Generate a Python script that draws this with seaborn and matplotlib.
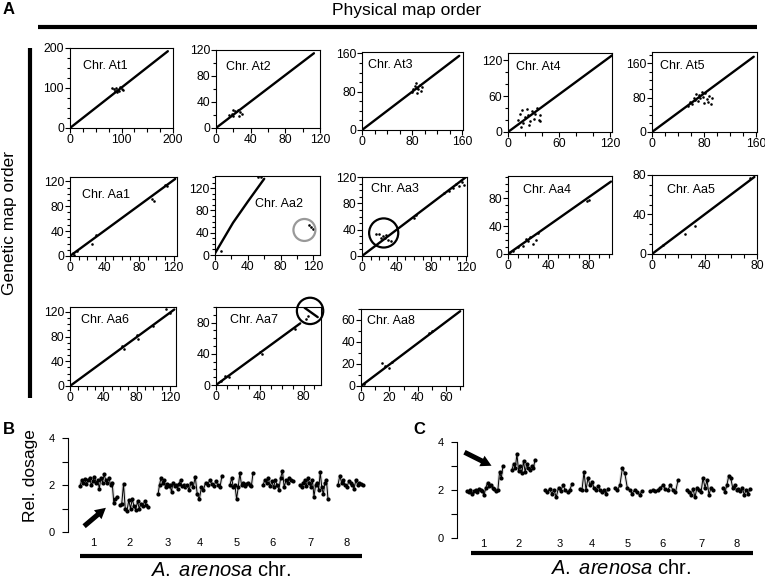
import numpy as np
import matplotlib
matplotlib.use("Agg")
import matplotlib.pyplot as plt
from matplotlib.lines import Line2D
from matplotlib.ticker import MultipleLocator
import seaborn as sns

# ── 1. Panel A: marker order, (physical, genetic) pairs ───────────────────────
at1_line = [(0, 0), (190, 192)]
at1_dots = [(82, 100), (86, 98), (90, 101), (93, 95), (96, 92), (100, 97),
            (103, 94), (88, 92), (92, 90), (98, 102)]
at2_line = [(0, 0), (113, 115)]
at2_dots = [(15, 20), (18, 22), (20, 18), (22, 26), (25, 28), (28, 24),
            (30, 22), (20, 27), (26, 19)]
at3_line = [(0, 0), (155, 155)]
at3_dots = [(80, 80), (84, 92), (86, 98), (88, 88), (90, 85), (92, 95),
            (94, 82), (96, 90), (88, 78), (82, 86)]
at4_line = [(0, 0), (122, 128)]
at4_dots = [(12, 20), (14, 30), (16, 36), (18, 15), (20, 25), (22, 38),
            (24, 28), (26, 18), (28, 35), (30, 22), (32, 30), (34, 40),
            (36, 20), (38, 28), (25, 12), (15, 8), (38, 18)]
at5_line = [(0, 0), (156, 175)]
at5_dots = [(55, 60), (58, 70), (62, 65), (64, 80), (66, 75), (68, 88),
            (70, 72), (72, 85), (74, 78), (76, 92), (78, 82), (80, 68),
            (82, 90), (84, 76), (86, 70), (88, 84), (90, 65), (92, 80)]
aa1_line = [(0, 0), (122, 124)]
aa1_dots = [(3, 5), (5, 2), (8, 8), (25, 20), (30, 33), (95, 92), (97, 88),
            (110, 114), (112, 112)]
aa2_line = [(0, 3), (22, 58), (40, 96), (60, 137)]
aa2_dots = [(7, 8), (52, 141), (56, 140), (115, 54), (117, 50), (119, 46)]
aa3_line = [(0, 0), (120, 120)]
aa3_dots = [(16, 34), (20, 33), (22, 27), (24, 30), (27, 28), (28, 32),
            (30, 25), (33, 23), (60, 58), (62, 62), (95, 95), (100, 98),
            (105, 103), (108, 110), (112, 106), (115, 112), (118, 108)]
aa4_line = [(0, 0), (102, 104)]
aa4_dots = [(2, 3), (5, 5), (10, 10), (15, 12), (18, 22), (20, 18), (22, 24),
            (25, 15), (28, 20), (30, 30), (78, 76), (80, 78)]
aa5_line = [(0, 0), (78, 78)]
aa5_dots = [(8, 9), (25, 20), (33, 28), (75, 77)]
aa6_line = [(0, 0), (125, 124)]
aa6_dots = [(62, 65), (65, 60), (80, 82), (82, 76), (100, 98), (115, 124),
            (120, 118)]
aa7_line = [(0, 0), (77, 79)]
aa7_flip = [(81, 99), (93, 87)]
aa7_dots = [(5, 5), (8, 12), (12, 10), (40, 42), (42, 40), (72, 72),
            (82, 84), (84, 88)]
aa8_line = [(0, 0), (70, 68)]
aa8_dots = [(2, 2), (15, 21), (17, 18), (20, 16), (22, 22), (48, 48), (50, 50)]

chrom_names = ["At1", "At2", "At3", "At4", "At5",
               "Aa1", "Aa2", "Aa3", "Aa4", "Aa5",
               "Aa6", "Aa7", "Aa8"]
chrom_lines = [at1_line, at2_line, at3_line, at4_line, at5_line,
               aa1_line, aa2_line, aa3_line, aa4_line, aa5_line,
               aa6_line, aa7_line, aa8_line]
chrom_dots = [at1_dots, at2_dots, at3_dots, at4_dots, at5_dots,
              aa1_dots, aa2_dots, aa3_dots, aa4_dots, aa5_dots,
              aa6_dots, aa7_dots, aa8_dots]
x_max = [200, 120, 161, 122, 161, 124, 128, 121, 103, 80, 127, 96, 72]
y_max = [200, 120, 163, 132, 186, 127, 142, 120, 112, 80, 128, 100, 70]
major_step = [100, 40, 80, 60, 80, 40, 40, 40, 40, 40, 40, 40, 20]
x_minor = [25, 20, 20, 20, 20, 10, 20, 10, 10, 10, 10, 10, 10]
y_minor = [25, 20, 20, 20, 20, 10, 10, 10, 10, 10, 10, 10, 10]

# circled regions: chromosome, centre, colour
circle_chrom = ["Aa2", "Aa3", "Aa7"]
circle_xy = [(109, 45), (25, 35), (86, 95)]
circle_color = ["#999999", "black", "black"]

# ── 2. Panels B / C: relative dosage per window ───────────────────────────────
b_chr1 = [1.95, 2.2, 2.1, 2.25, 2.05, 2.2, 2.3, 2.0, 2.15, 2.35, 2.1, 2.2,
          1.85, 2.3, 2.1, 2.45, 2.2, 2.1, 2.3, 2.0, 2.1, 1.25, 1.4, 1.5]
b_chr2 = [1.15, 1.2, 2.05, 1.0, 0.9, 1.35, 1.0, 1.4, 1.1, 0.95, 1.3, 1.0,
          1.2, 1.1, 1.3, 1.15, 1.05]
b_chr3 = [1.6, 2.0, 2.3, 2.1, 2.2, 1.9, 2.05, 1.95, 2.0, 1.7, 2.1, 1.95,
          2.0, 1.85, 2.05, 2.2, 1.95, 2.0, 1.9]
b_chr4 = [2.0, 1.8, 2.1, 1.9, 2.35, 1.6, 1.4, 1.9, 1.8, 2.1, 2.0, 2.2,
          2.05, 1.95, 2.15, 2.0, 1.9, 2.4]
b_chr5 = [2.0, 2.3, 1.9, 2.0, 1.4, 1.9, 2.5, 2.0, 2.1, 1.95, 2.05, 2.1,
          2.0, 1.95, 2.5]
b_chr6 = [2.0, 2.2, 2.1, 2.3, 1.95, 2.15, 1.9, 2.2, 2.0, 1.8, 2.3, 2.6,
          1.9, 2.2, 2.1, 2.3, 2.2, 2.15]
b_chr7 = [2.0, 1.9, 2.1, 2.2, 1.95, 2.3, 2.1, 1.9, 2.2, 1.5, 2.0, 2.1,
          1.8, 2.55, 1.9, 1.6, 2.1, 2.2, 1.4]
b_chr8 = [2.0, 2.4, 2.1, 2.2, 2.0, 1.9, 2.15, 2.1, 2.0, 1.85, 2.2, 2.0,
          2.1, 2.05, 2.0]
b_start = [12, 52, 90, 119, 162, 195, 232, 270]
b_end = [49, 80, 117, 154, 185, 225, 260, 295]
b_label_pos = [25, 62, 100, 132, 169, 204, 242, 279]

c_chr1 = [1.95, 1.9, 2.0, 1.85, 1.95, 2.0, 1.9, 2.05, 2.0, 1.95, 1.8, 2.1,
          2.3, 2.15, 2.2, 2.1, 2.05, 1.95, 2.0, 2.75, 2.5, 3.0]
c_chr2 = [2.85, 3.1, 2.9, 3.5, 2.8, 3.0, 2.7, 3.2, 2.75, 3.1, 2.9, 2.85,
          3.0, 2.9, 3.25]
c_chr3 = [2.0, 1.9, 2.05, 1.85, 2.0, 1.7, 2.1, 1.95, 2.2, 2.0, 1.9, 2.0, 2.25]
c_chr4 = [2.05, 2.0, 2.75, 2.0, 2.5, 2.2, 2.35, 2.1, 2.0, 2.15, 2.0, 1.9,
          2.0, 1.85, 2.05]
c_chr5 = [2.1, 2.0, 2.2, 2.9, 2.7, 2.1, 2.0, 1.85, 2.0, 1.9, 1.8, 1.95]
c_chr6 = [1.95, 2.0, 1.95, 2.0, 2.1, 2.2, 2.05, 2.0, 2.2, 2.0, 1.9, 2.4]
c_chr7 = [2.0, 1.9, 1.8, 2.05, 1.7, 2.1, 2.0, 1.9, 2.5, 2.1, 2.4, 1.8,
          2.1, 2.0]
c_chr8 = [2.1, 1.9, 2.2, 2.6, 2.5, 2.1, 2.2, 2.0, 2.05, 1.95, 2.1, 1.8,
          2.0, 1.85, 2.05]
c_start = [10, 55, 88, 123, 158, 193, 230, 266]
c_end = [46, 78, 115, 151, 185, 221, 256, 293]
c_label_pos = [26, 62, 103, 135, 171, 206, 244, 280]

chr_numbers = ["1", "2", "3", "4", "5", "6", "7", "8"]

# ── 3. Style ──────────────────────────────────────────────────────────────────
sns.set_theme(style="ticks")
plt.rcParams["font.family"] = ["Liberation Sans", "DejaVu Sans"]
plt.rcParams.update({
    "mathtext.fontset": "custom",
    "mathtext.it": "Liberation Sans:italic",
    "mathtext.rm": "Liberation Sans",
    "text.color": "black",
    "axes.edgecolor": "black",
    "axes.linewidth": 0.8,
    "xtick.color": "black",
    "ytick.color": "black",
    "xtick.labelsize": 8.7,
    "ytick.labelsize": 8.7,
    "xtick.major.size": 3.5,
    "ytick.major.size": 3.5,
    "xtick.minor.size": 3.0,
    "ytick.minor.size": 2.2,
    "xtick.major.width": 0.8,
    "ytick.major.width": 0.8,
    "xtick.minor.width": 0.8,
    "ytick.minor.width": 0.8,
    "xtick.major.pad": 1.0,
    "ytick.major.pad": 0.8,
})

W, H = 765, 579
fig = plt.figure(figsize=(W / 100, H / 100), dpi=100)


def px_rect(l, t, r, b):
    return [l / W, 1 - b / H, (r - l) / W, (b - t) / H]


def fx(x):
    return x / W


def fy(y):
    return 1 - y / H


# pixel boxes (left, top, right, bottom) of every small dot plot
boxes = [(70, 48, 173, 128), (216, 50, 320, 128), (362, 52, 463, 130),
         (508, 53, 612, 132), (652, 52, 757, 132),
         (70, 177, 177, 256), (215, 176, 320, 255), (362, 177, 467, 256),
         (508, 176, 612, 254), (652, 175, 757, 254),
         (70, 307, 176, 386), (216, 307, 321, 385), (361, 309, 463, 386)]
label_pos = [(0.13, 0.78), (0.10, 0.78), (0.06, 0.83), (0.08, 0.82),
             (0.08, 0.82), (0.11, 0.77), (0.38, 0.65), (0.09, 0.85),
             (0.14, 0.82), (0.14, 0.81), (0.10, 0.83), (0.13, 0.83),
             (0.06, 0.84)]
circle_size = {"Aa2": 250, "Aa3": 440, "Aa7": 360}

# ── 4. Panel A dot plots ──────────────────────────────────────────────────────
for i, name in enumerate(chrom_names):
    ax = fig.add_axes(px_rect(*boxes[i]))
    lx, ly = zip(*chrom_lines[i])
    sns.lineplot(x=list(lx), y=list(ly), ax=ax, color="black", lw=1.7,
                 sort=False, estimator=None)
    dx, dy = zip(*chrom_dots[i])
    sns.scatterplot(x=list(dx), y=list(dy), ax=ax, color="black", s=3.5,
                    linewidth=0)
    if name == "Aa7":
        fx_, fy_ = zip(*aa7_flip)
        sns.lineplot(x=list(fx_), y=list(fy_), ax=ax, color="black", lw=1.7,
                     sort=False, estimator=None)
    if name in circle_chrom:
        k = circle_chrom.index(name)
        ax.scatter([circle_xy[k][0]], [circle_xy[k][1]], s=circle_size[name],
                   facecolors="none", edgecolors=circle_color[k],
                   linewidths=1.6, clip_on=False, zorder=5)
    ax.set_xlim(0, x_max[i])
    ax.set_ylim(0, y_max[i])
    ax.xaxis.set_major_locator(MultipleLocator(major_step[i]))
    ax.yaxis.set_major_locator(MultipleLocator(major_step[i]))
    ax.xaxis.set_minor_locator(MultipleLocator(x_minor[i]))
    ax.yaxis.set_minor_locator(MultipleLocator(y_minor[i]))
    ax.tick_params(top=False, right=False, which="both")
    ax.text(label_pos[i][0], label_pos[i][1], f"Chr. {name}",
            transform=ax.transAxes, fontsize=9, va="center", ha="left")
    ax.set_xlabel("")
    ax.set_ylabel("")

# frame of panel A
fig.text(fx(3), fy(10), "A", fontsize=12, fontweight="bold", va="center")
fig.text(fx(407), fy(10), "Physical map order", fontsize=12.5,
         ha="center", va="center")
fig.add_artist(Line2D([fx(38), fx(757)], [fy(26.5), fy(26.5)], color="black",
                      lw=3, solid_capstyle="butt", transform=fig.transFigure))
fig.add_artist(Line2D([fx(30), fx(30)], [fy(48), fy(398)], color="black",
                      lw=3, solid_capstyle="butt", transform=fig.transFigure))
fig.text(fx(10), fy(223), "Genetic map order", fontsize=12.5, rotation=90,
         ha="center", va="center")


# ── 5. Panels B and C ─────────────────────────────────────────────────────────
def dosage_panel(rect, series, starts, ends, label_x, pad):
    ax = fig.add_axes(rect)
    for vals, s0, s1 in zip(series, starts, ends):
        xs = np.linspace(s0, s1, len(vals))
        sns.lineplot(x=xs, y=vals, ax=ax, color="#bbbbbb", lw=2.4,
                     estimator=None, alpha=0.5)
        sns.lineplot(x=xs, y=vals, ax=ax, color="black", lw=0.7,
                     estimator=None, marker="o", markersize=3.0,
                     markeredgewidth=0)
    ax.set_xlim(0, 300)
    ax.set_ylim(0, 4)
    sns.despine(ax=ax, bottom=True)
    ax.set_yticks([0, 1, 2, 3, 4], ["0", "", "2", "", "4"])
    ax.set_xticks(label_x, chr_numbers)
    ax.tick_params(axis="x", length=0, pad=pad, labelsize=8)
    ax.tick_params(axis="y", length=4.5, pad=5, labelsize=8)
    ax.set_xlabel("")
    ax.set_ylabel("")
    return ax


b_series = [b_chr1, b_chr2, b_chr3, b_chr4, b_chr5, b_chr6, b_chr7, b_chr8]
c_series = [c_chr1, c_chr2, c_chr3, c_chr4, c_chr5, c_chr6, c_chr7, c_chr8]

ax_b = dosage_panel(px_rect(68, 438, 368, 532), b_series, b_start, b_end,
                    b_label_pos, 4)
ax_c = dosage_panel(px_rect(457, 442, 757, 538), c_series, c_start, c_end,
                    c_label_pos, 0.5)

fig.text(fx(3), fy(430), "B", fontsize=12, fontweight="bold", va="center")
fig.text(fx(413), fy(430), "C", fontsize=12, fontweight="bold", va="center")
fig.text(fx(30), fy(476), "Rel. dosage", fontsize=12.5, rotation=90,
         ha="center", va="center")

for x0, x1, y_bar, x_txt, y_txt in [(80, 362, 556, 220, 571),
                                     (471, 753, 553, 620, 568)]:
    fig.add_artist(Line2D([fx(x0), fx(x1)], [fy(y_bar), fy(y_bar)],
                          color="black", lw=3, solid_capstyle="butt",
                          transform=fig.transFigure))
    fig.text(fx(x_txt), fy(y_txt), r"$\mathit{A.\ arenosa}$ chr.",
             fontsize=14.5, ha="center", va="center")

# arrows pointing at the dosage shifts
arrow_style = "simple,head_length=0.55,head_width=0.6,tail_width=0.26"
ax_b.annotate("", xy=(fx(108), fy(506)), xytext=(fx(82), fy(528)),
              xycoords="figure fraction", textcoords="figure fraction",
              arrowprops=dict(arrowstyle=arrow_style, color="black",
                              mutation_scale=14, lw=0))
ax_c.annotate("", xy=(fx(494), fy(467)), xytext=(fx(462), fy(451)),
              xycoords="figure fraction", textcoords="figure fraction",
              arrowprops=dict(arrowstyle=arrow_style, color="black",
                              mutation_scale=14, lw=0))

fig.savefig("out.png", dpi=100)
